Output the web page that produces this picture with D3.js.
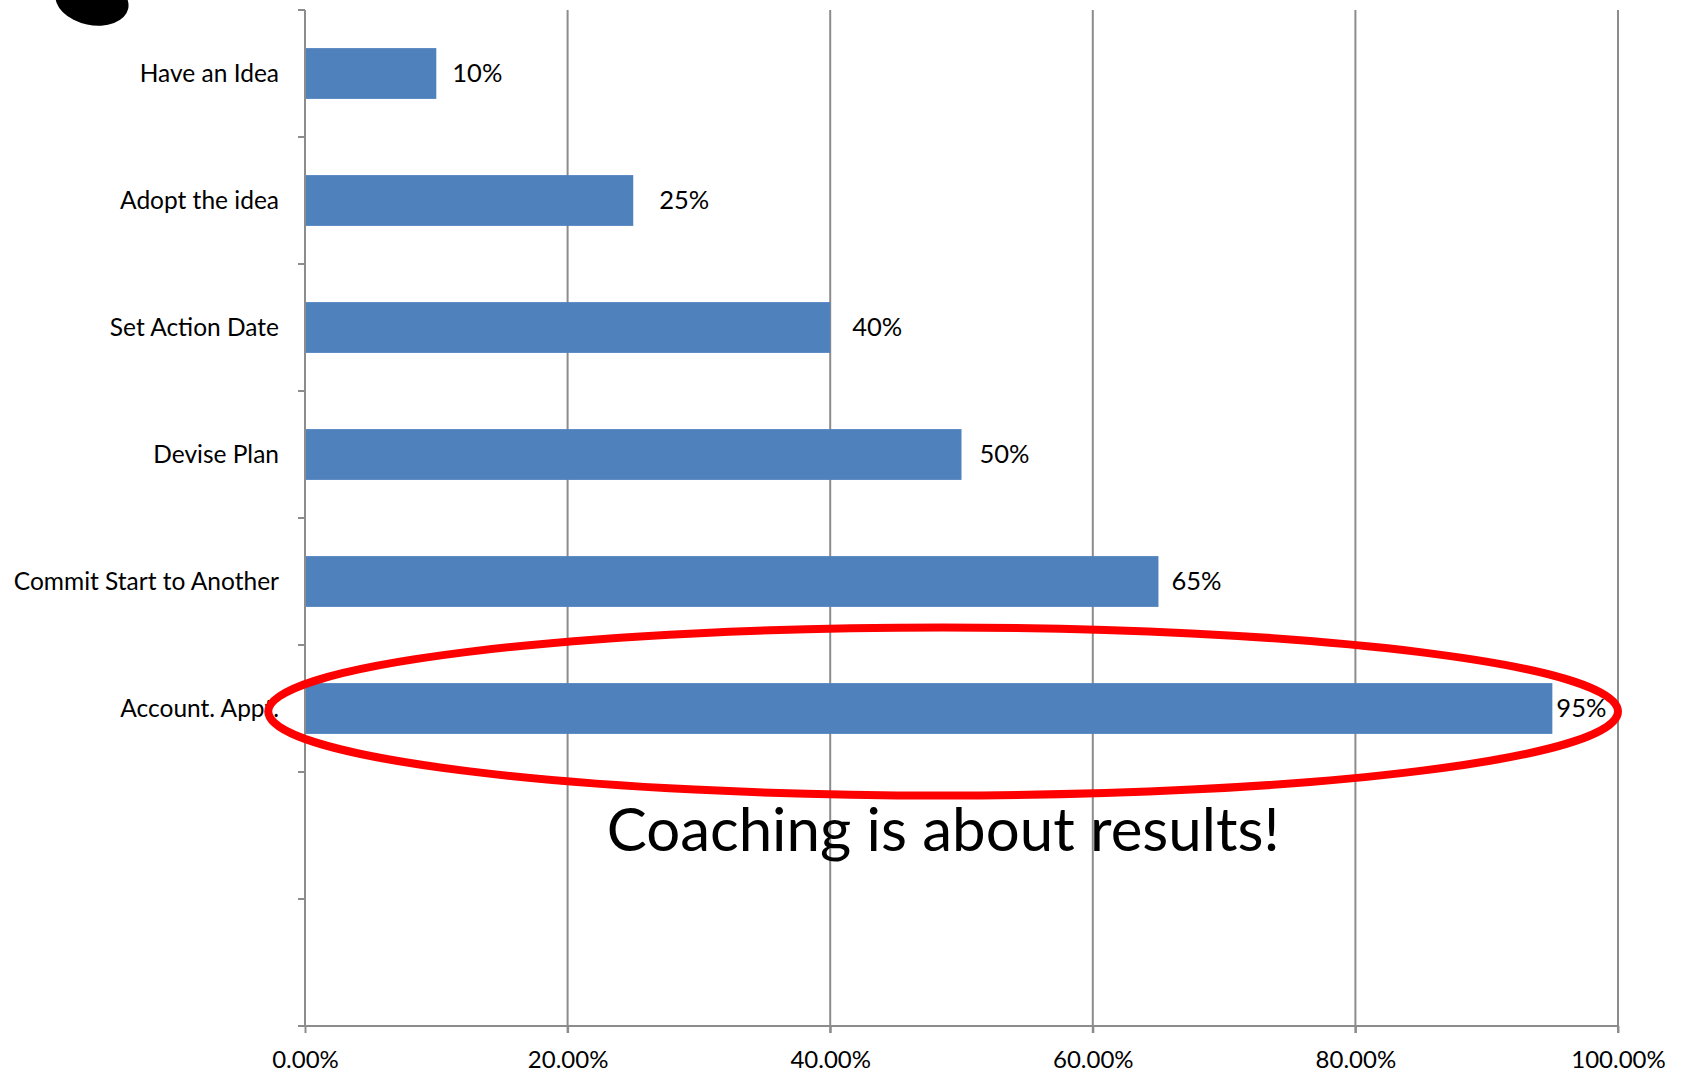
<!DOCTYPE html>
<html lang="en">
<head>
    <meta charset="UTF-8">
    <title>Coaching is about results</title>
    <style>
        body {
            margin: 0;
            background: #ffffff;
        }
        svg {
            display: block;
            font-family: Lato, "Open Sans", sans-serif;
        }
        .grid line {
            stroke: #8c8c8c;
            stroke-width: 2px;
        }
        .axis path, .axis line {
            stroke: #8c8c8c;
            stroke-width: 2px;
        }
        .bar {
            fill: #4f81bd;
        }
        text {
            fill: #000;
        }
    </style>
</head>
<body>
<div id="chart"></div>
<script src="https://d3js.org/d3.v7.min.js"></script>
<script>
    // categories, top to bottom (last two slots are empty in the original)
    const categories = ["Have an Idea", "Adopt the idea", "Set Action Date", "Devise Plan",
        "Commit Start to Another", "Account. Appt.", " ", "  "];
    const values = [0.10, 0.25, 0.40, 0.50, 0.65, 0.95];
    const valueLabels = ["10%", "25%", "40%", "50%", "65%", "95%"];
    const xTicks = [0, 0.2, 0.4, 0.6, 0.8, 1.0];
    // gap between bar end and its label (labels were nudged by hand)
    const labelGap = [16, 26, 22, 18, 13, 4];

    const width = 1685;
    const height = 1072;
    const margin = {top: 10, right: 67, bottom: 46, left: 305};

    const svg = d3.select("#chart")
        .append("svg")
        .attr("width", width)
        .attr("height", height);

    const x = d3.scaleLinear()
        .domain([0, 1])
        .range([margin.left, width - margin.right]);

    const y = d3.scaleBand()
        .domain(categories)
        .range([margin.top, height - margin.bottom])
        .paddingInner(0.6)
        .paddingOuter(0.3);

    const step = y.step();

    // vertical gridlines (skip 0, the axis is drawn there)
    svg.append("g")
        .attr("class", "grid")
        .selectAll("line")
        .data(xTicks.slice(1))
        .enter().append("line")
        .attr("x1", d => x(d))
        .attr("x2", d => x(d))
        .attr("y1", margin.top)
        .attr("y2", height - margin.bottom + 7);

    // bottom axis
    const xAxis = svg.append("g")
        .attr("class", "axis")
        .attr("transform", `translate(0,${height - margin.bottom})`)
        .call(d3.axisBottom(x)
            .tickValues(xTicks)
            .tickFormat(d3.format(".2%"))
            .tickSize(7)
            .tickSizeOuter(0)
            .tickPadding(18));
    xAxis.select(".domain").attr("d", `M${margin.left - 7},0H${width - margin.right}`);
    xAxis.selectAll("text")
        .attr("font-size", 24)
        .attr("font-family", "Lato, sans-serif")
        .attr("fill", "#000");

    // left axis line with tick marks between categories
    const yAxis = svg.append("g").attr("class", "axis");
    yAxis.append("line")
        .attr("x1", x(0)).attr("x2", x(0))
        .attr("y1", margin.top).attr("y2", height - margin.bottom);
    yAxis.selectAll(".tk")
        .data(categories)
        .enter().append("line")
        .attr("class", "tk")
        .attr("x1", x(0) - 7).attr("x2", x(0))
        .attr("y1", d => y(d) - step * 0.3)
        .attr("y2", d => y(d) - step * 0.3);

    // category labels
    svg.append("g")
        .selectAll("text")
        .data(categories)
        .enter().append("text")
        .attr("x", x(0) - 26)
        .attr("y", d => y(d) + y.bandwidth() / 2)
        .attr("dy", "0.35em")
        .attr("text-anchor", "end")
        .attr("font-size", 24.5)
        .text(d => d.trim());

    // bars
    svg.append("g")
        .selectAll("rect")
        .data(values)
        .enter().append("rect")
        .attr("class", "bar")
        .attr("x", x(0) + 1)
        .attr("y", (d, i) => y(categories[i]))
        .attr("width", d => x(d) - x(0) - 1)
        .attr("height", y.bandwidth());

    // value labels
    svg.append("g")
        .selectAll("text")
        .data(values)
        .enter().append("text")
        .attr("x", (d, i) => x(d) + labelGap[i])
        .attr("y", (d, i) => y(categories[i]) + y.bandwidth() / 2)
        .attr("dy", "0.35em")
        .attr("font-size", 25.5)
        .text((d, i) => valueLabels[i]);

    // red hand-drawn ellipse around the last bar
    const hl = categories[5];
    svg.append("ellipse")
        .attr("cx", x(0.486))
        .attr("cy", y(hl) + y.bandwidth() / 2 + 3)
        .attr("rx", x(1) - x(0.486))
        .attr("ry", 84)
        .attr("fill", "none")
        .attr("stroke", "#ff0000")
        .attr("stroke-width", 8);

    // annotation
    svg.append("text")
        .attr("x", x(0.486))
        .attr("y", 851)
        .attr("text-anchor", "middle")
        .attr("font-size", 60)
        .text("Coaching is about results!");

    // black blob in the top-left corner
    svg.append("ellipse")
        .attr("cx", 92)
        .attr("cy", 1)
        .attr("rx", 37)
        .attr("ry", 24)
        .attr("transform", "rotate(12,92,1)")
        .attr("fill", "#000");
</script>
</body>
</html>
